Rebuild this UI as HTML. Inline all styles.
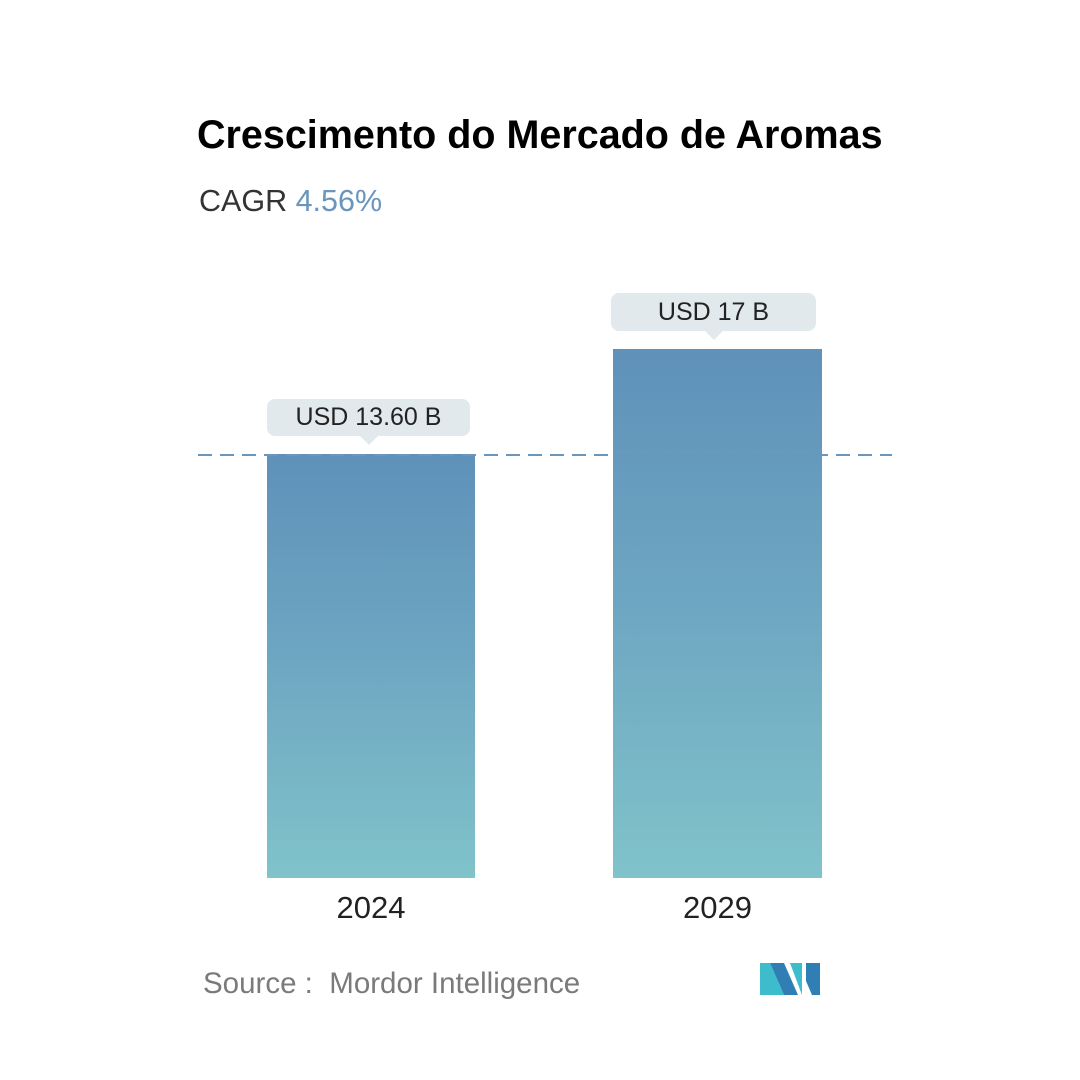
<!DOCTYPE html>
<html><head><meta charset="utf-8"><style>
body{margin:0;width:1080px;height:1080px;background:#fff;position:relative;overflow:hidden;font-family:"Liberation Sans",sans-serif}
.a{position:absolute;white-space:nowrap}
.bar{position:absolute;background:linear-gradient(#5f91b9,#6ea7c2 50%,#80c3ca)}
.lbl{position:absolute;background:#e1e9ec;border-radius:8px;font-size:25px;color:#222;text-align:center}
.lbl:after{content:"";position:absolute;left:50%;bottom:-9px;margin-left:-9px;border-left:9px solid transparent;border-right:9px solid transparent;border-top:9px solid #e1e9ec}
</style></head><body>
<div class="a" style="left:197px;top:113px;font-size:39.5px;font-weight:bold;color:#000">Crescimento do Mercado de Aromas</div>
<div class="a" style="left:199px;top:184px;font-size:30.5px;color:#333">CAGR <span style="color:#6a95bd">4.56%</span></div>
<div class="bar" style="left:267px;top:454px;width:208px;height:424px"></div>
<div class="bar" style="left:613px;top:349px;width:209px;height:529px"></div>
<svg class="a" style="left:0;top:0" width="1080" height="1080"><line x1="198" y1="455" x2="892" y2="455" stroke="#6a95bd" stroke-width="2" stroke-dasharray="14,8"/>
<g transform="translate(760,963)"><polygon points="0,0 10,0 24,32 0,32" fill="#3dbccc"/><polygon points="10,0 24,0 38,32 24,32" fill="#2f7fb5"/><polygon points="30,0 42,0 42,32" fill="#3dbccc"/><polygon points="46,0 60,0 60,32 52,32 46,18" fill="#2f7fb5"/></g></svg>
<div class="lbl" style="left:267px;top:399px;width:203px;height:37px;line-height:37px">USD 13.60 B</div>
<div class="lbl" style="left:611px;top:293px;width:205px;height:38px;line-height:38px">USD 17 B</div>
<div class="a" style="left:267px;width:208px;top:890px;text-align:center;font-size:31px;color:#222">2024</div>
<div class="a" style="left:613px;width:209px;top:890px;text-align:center;font-size:31px;color:#222">2029</div>
<div class="a" style="left:203px;top:967px;font-size:29.5px;color:#7a7a7a">Source :&nbsp; Mordor Intelligence</div>
</body></html>
